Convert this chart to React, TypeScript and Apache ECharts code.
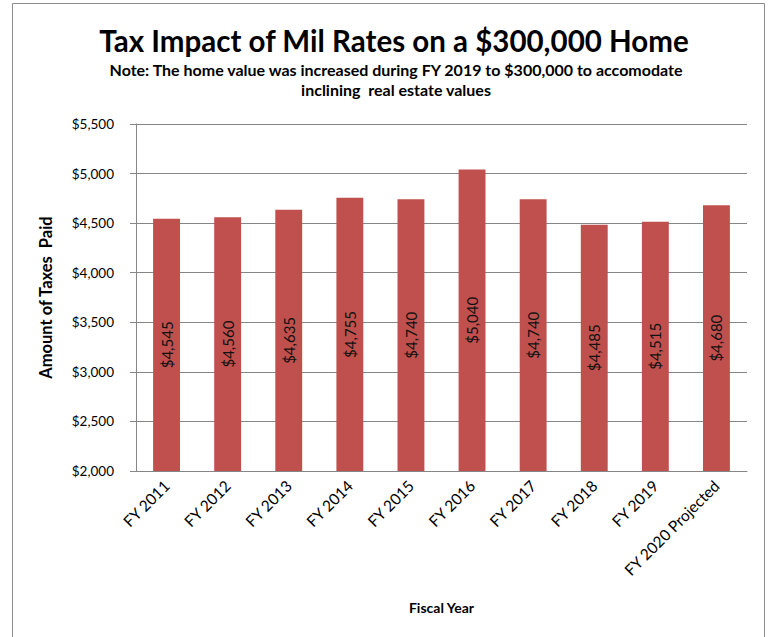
import React, { useEffect, useRef } from "react";
import * as echarts from "echarts";

const categories = [
  "FY 2011",
  "FY 2012",
  "FY 2013",
  "FY 2014",
  "FY 2015",
  "FY 2016",
  "FY 2017",
  "FY 2018",
  "FY 2019",
  "FY 2020 Projected",
];
const taxesPaid = [4545, 4560, 4635, 4755, 4740, 5040, 4740, 4485, 4515, 4680];
const yMin = 2000;
const yMax = 5500;
const yStep = 500;

const FONT = "Lato, 'Open Sans', sans-serif";

const money = (v: number) => "$" + v.toLocaleString("en-US");

export default function App() {
  const ref = useRef<HTMLDivElement>(null);
  useEffect(() => {
    document.body.style.margin = "0";
    const chart = echarts.init(ref.current!, null, { renderer: "svg" });
    chart.setOption({
      animation: false,
      backgroundColor: "#ffffff",
      textStyle: { fontFamily: FONT },
      title: [
        {
          text: "Tax Impact of Mil Rates on a $300,000 Home",
          left: 389,
          top: 20,
          textAlign: "center",
          textStyle: { fontSize: 29.5, fontWeight: "bold", color: "#000", fontFamily: FONT },
        },
        {
          text:
            "Note: The home value was increased during FY 2019 to $300,000 to accomodate\ninclining  real estate values",
          left: 391,
          top: 54,
          textAlign: "center",
          textStyle: {
            fontSize: 16,
            fontWeight: "bold",
            color: "#000",
            lineHeight: 20,
            fontFamily: FONT,
          },
        },
      ],
      graphic: [
        {
          type: "rect",
          shape: { x: 12.5, y: 3.5, width: 752, height: 650 },
          style: { fill: "none", stroke: "#8c8c8c", lineWidth: 1 },
          silent: true,
        },
      ],
      grid: { left: 136, right: 22, top: 124, bottom: 166 },
      xAxis: {
        type: "category",
        data: categories,
        name: "Fiscal Year",
        nameLocation: "middle",
        nameGap: 129,
        nameTextStyle: { fontSize: 14, fontWeight: "bold", color: "#000" },
        axisLine: { lineStyle: { color: "#868686" } },
        axisTick: { show: false },
        axisLabel: {
          rotate: 45,
          interval: 0,
          fontSize: 15.5,
          color: "#000",
          margin: 12,
        },
      },
      yAxis: {
        type: "value",
        min: yMin,
        max: yMax,
        interval: yStep,
        name: "Amount of Taxes  Paid",
        nameLocation: "middle",
        nameGap: 82,
        nameTextStyle: { fontSize: 16.5, fontWeight: "bold", color: "#000" },
        axisLine: { show: true, lineStyle: { color: "#868686" } },
        axisTick: { show: true, length: 6, lineStyle: { color: "#868686" } },
        splitLine: { lineStyle: { color: "#868686" } },
        axisLabel: {
          fontSize: 13.5,
          color: "#000",
          margin: 22,
          formatter: (v: number) => money(v),
        },
      },
      series: [
        {
          type: "bar",
          data: taxesPaid,
          barWidth: "44%",
          itemStyle: { color: "#C0504D" },
          label: {
            show: true,
            position: "inside",
            rotate: 90,
            fontSize: 15,
            color: "#111",
            formatter: (p: any) => money(p.value),
          },
        },
      ],
    });
    return () => chart.dispose();
  }, []);
  return <div ref={ref} style={{ width: 769, height: 637 }} />;
}
